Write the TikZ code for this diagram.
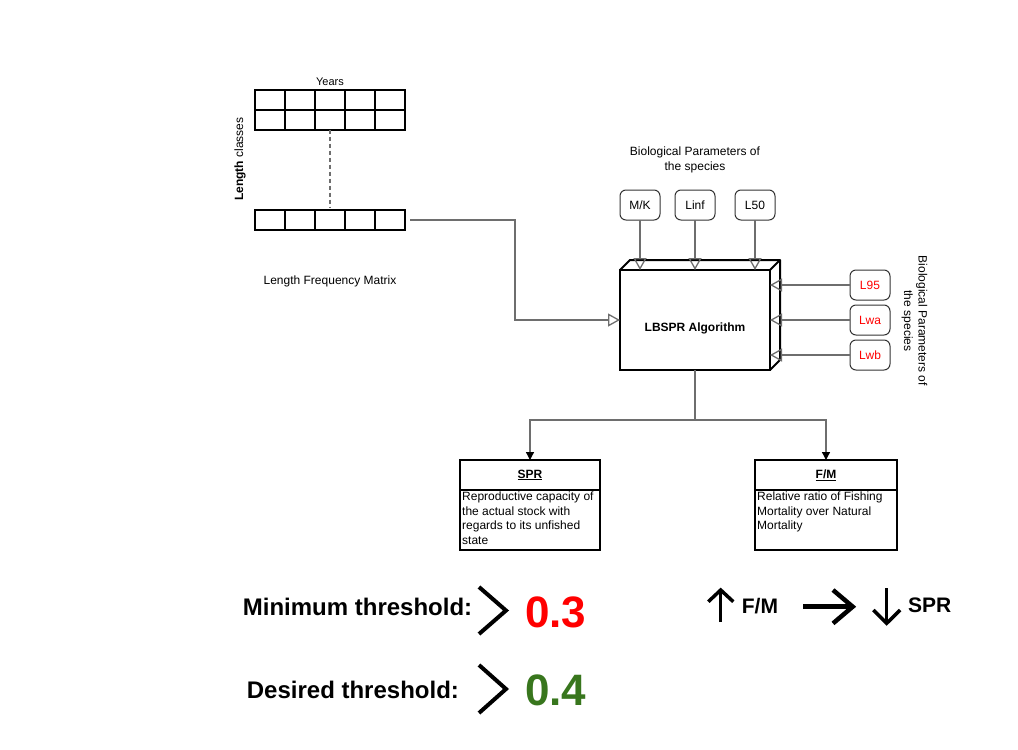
\documentclass[tikz,border=0pt]{standalone}
\usepackage{fontspec}
\setmainfont{Liberation Sans}
\usepackage{tikz}
\usetikzlibrary{positioning,arrows.meta}
\definecolor{conngray}{HTML}{6E6E6E}
\definecolor{parred}{HTML}{FF0000}
\definecolor{okgreen}{HTML}{38761D}

\begin{document}
\begin{tikzpicture}[x=1pt, y=1pt,
    font=\fontsize{12}{14.5}\selectfont,
    cell/.style={draw, line width=2pt, outer sep=0pt, inner sep=0pt,
        minimum width=30pt, minimum height=20pt},
    param/.style={draw=black!80, line width=1pt, rounded corners=6pt, outer sep=0pt,
        inner sep=0pt, minimum width=40pt, minimum height=30pt},
    outbox/.style={draw, line width=2pt, outer sep=0pt, inner sep=0pt,
        minimum width=140pt},
    bodytext/.style={anchor=north west, align=left, inner sep=2pt},
    opentip/.style={conngray, line width=1.3pt,
        -{Triangle[open, length=12pt, width=13pt]}},
    filltip/.style={conngray, line width=1.3pt,
        -{Triangle[length=8pt, width=8pt, color=black]}},
    bigtext/.style={font=\bfseries\fontsize{24}{28}\selectfont,
        anchor=base west, inner sep=0pt},
    numtext/.style={font=\bfseries\fontsize{44}{50}\selectfont,
        anchor=base west, inner sep=0pt},
    trendtext/.style={font=\bfseries\fontsize{21}{24}\selectfont,
        anchor=base west, inner sep=0pt}
]
    \useasboundingbox (0,0) rectangle (1018,-750);

    % length frequency matrix
    \node [cell] (TopCell11) at (270,-99.5) {};
    \node [cell, right=0pt of TopCell11] (TopCell12) {};
    \node [cell, right=0pt of TopCell12] (TopCell13) {};
    \node [cell, right=0pt of TopCell13] (TopCell14) {};
    \node [cell, right=0pt of TopCell14] (TopCell15) {};
    \node [cell, below=0pt of TopCell11] (TopCell21) {};
    \node [cell, right=0pt of TopCell21] (TopCell22) {};
    \node [cell, right=0pt of TopCell22] (TopCell23) {};
    \node [cell, right=0pt of TopCell23] (TopCell24) {};
    \node [cell, right=0pt of TopCell24] (TopCell25) {};
    \node [cell] (BotCell1) at (270,-220) {};
    \node [cell, right=0pt of BotCell1] (BotCell2) {};
    \node [cell, right=0pt of BotCell2] (BotCell3) {};
    \node [cell, right=0pt of BotCell3] (BotCell4) {};
    \node [cell, right=0pt of BotCell4] (BotCell5) {};

    \node [anchor=base, font=\fontsize{11}{13}\selectfont] (YearsLabel)
        at (330,-85) {Years};
    \node [rotate=90] (LengthLabel) at (240,-159) {\textbf{Length} classes};
    \node [anchor=base] (MatrixLabel) at (330,-284) {Length Frequency Matrix};

    \draw [conngray, line width=1.3pt, dashed, dash pattern=on 4pt off 3pt,
        shorten >=3pt] (TopCell23.south) -- (BotCell3.north);

    % algorithm block
    \node [draw, line width=2pt, outer sep=0pt,
        minimum width=150pt, minimum height=100pt,
        text height=24pt, text depth=2pt,
        font=\bfseries\fontsize{12}{14}\selectfont
    ] (Algo) at (695,-320) {LBSPR Algorithm};
    \draw [line width=2pt, line join=round] (Algo.north west) -- ++(10,10)
        -- ([shift={(10,10)}]Algo.north east)
        -- ([shift={(10,10)}]Algo.south east) -- (Algo.south east);
    \draw [line width=2pt] (Algo.north east) -- ++(10,10);

    % biological parameters
    \node [align=center] (BioTop) at (695,-160)
        {Biological Parameters of\\the species};
    \node [param] (ParMK) at (640,-205) {M/K};
    \node [param, right=15pt of ParMK] (ParLinf) {Linf};
    \node [param, right=20pt of ParLinf] (ParLfifty) {L50};

    \node [align=center, rotate=-90] (BioSide) at (914.5,-321)
        {Biological Parameters of\\the species};
    \node [param, text=parred] (ParLninetyfive) at (870,-285) {L95};
    \node [param, text=parred, below=5pt of ParLninetyfive] (ParLwa) {Lwa};
    \node [param, text=parred, below=5pt of ParLwa] (ParLwb) {Lwb};

    \draw [opentip] (ParMK.south) -- (ParMK.south |- Algo.north);
    \draw [opentip] (ParLinf.south) -- (ParLinf.south |- Algo.north);
    \draw [opentip] (ParLfifty.south) -- (ParLfifty.south |- Algo.north);
    \draw [opentip] (ParLninetyfive.west) -- (ParLninetyfive.west -| Algo.east);
    \draw [opentip] (ParLwa.west) -- (ParLwa.west -| Algo.east);
    \draw [opentip] (ParLwb.west) -- (ParLwb.west -| Algo.east);

    \draw [opentip, shorten <=5pt] (BotCell5.east) -- ++(110,0) |- (Algo.west);

    % outputs
    \node [outbox, minimum height=30pt] (SPRhead) at (530,-475)
        {\textbf{\underline{SPR}}};
    \node [outbox, minimum height=60pt, below=0pt of SPRhead] (SPRbody) {};
    \node [bodytext] (SPRtext) at (SPRbody.north west)
        {Reproductive capacity of\\the actual stock with\\regards to its unfished\\state};
    \node [outbox, minimum width=142pt, minimum height=30pt] (FMhead)
        at (826,-475) {\textbf{\underline{F/M}}};
    \node [outbox, minimum width=142pt, minimum height=60pt,
        below=0pt of FMhead] (FMbody) {};
    \node [bodytext] (FMtext) at (FMbody.north west)
        {Relative ratio of Fishing\\Mortality over Natural\\Mortality};

    \draw [conngray, line width=1.3pt] (Algo.south) -- ++(0,-50) coordinate (Split);
    \draw [filltip] (Split) -| (SPRhead.north);
    \draw [filltip] (Split) -| (FMhead.north);

    % thresholds
    \node [bigtext] (MinLabel) at (242.7,-615) {Minimum threshold:};
    \node [numtext, text=parred] (MinValue) at (525,-627) {0.3};
    \node [bigtext] (DesLabel) at (246.7,-698) {Desired threshold:};
    \node [numtext, text=okgreen] (DesValue) at (525,-705) {0.4};
    \draw [line width=4pt] (479,-587) -- (506,-610.5) -- (479,-634);
    \draw [line width=4pt] (479,-665) -- (506,-689) -- (479,-713);

    % trend
    \node [trendtext] (TrendFM) at (741.7,-613) {F/M};
    \node [trendtext] (TrendSPR) at (908,-612) {SPR};
    \draw [line width=3.5pt] (720.7,-622) -- (720.7,-591);
    \draw [line width=3.5pt] (708.3,-601.7) -- (720.7,-590) -- (733.3,-601.7);
    \draw [line width=4.5pt] (803,-606.7) -- (851,-606.7);
    \draw [line width=4.5pt] (833,-590) -- (852.7,-606.7) -- (833,-623.4);
    \draw [line width=3.5pt] (886.7,-588) -- (886.7,-622);
    \draw [line width=3.5pt] (873.3,-610) -- (886.7,-623.3) -- (900.1,-610);
\end{tikzpicture}
\end{document}
